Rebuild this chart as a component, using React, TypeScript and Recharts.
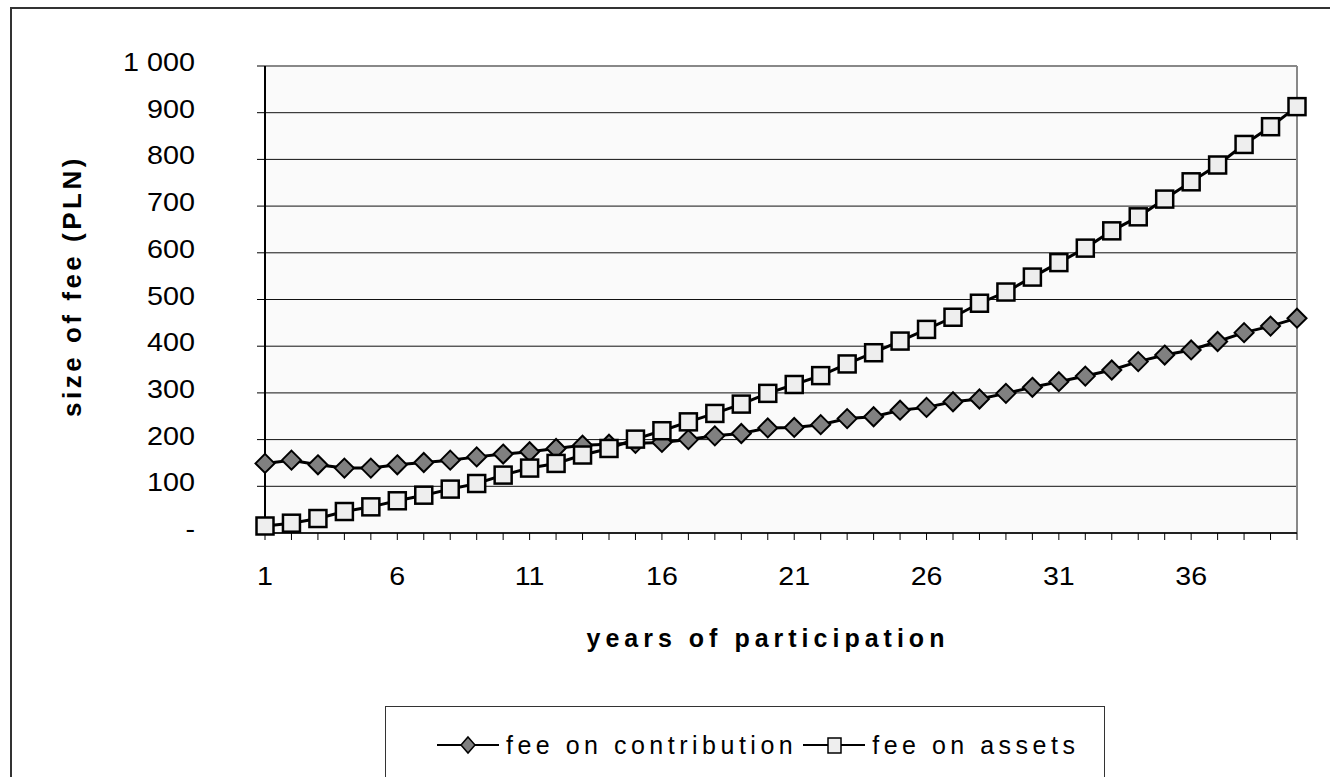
import {
  CartesianGrid,
  Legend,
  Line,
  LineChart,
  ReferenceLine,
  XAxis,
  YAxis,
} from "recharts";

const years = [
  1, 2, 3, 4, 5, 6, 7, 8, 9, 10, 11, 12, 13, 14, 15, 16, 17, 18, 19, 20, 21,
  22, 23, 24, 25, 26, 27, 28, 29, 30, 31, 32, 33, 34, 35, 36, 37, 38, 39, 40,
];

const feeOnContribution = [
  149, 156, 146, 139, 139, 146, 151, 156, 163, 169, 174, 181, 188, 190, 192,
  194, 200, 208, 213, 225, 226, 232, 245, 249, 263, 269, 281, 287, 299, 312,
  324, 336, 349, 367, 381, 392, 410, 429, 443, 460,
];

const feeOnAssets = [
  15, 21, 31, 46, 56, 69, 81, 94, 106, 124, 139, 149, 167, 181, 201, 219, 238,
  256, 276, 299, 318, 337, 362, 386, 411, 436, 462, 492, 516, 548, 579, 610,
  647, 677, 715, 752, 788, 832, 870, 913,
];

const xLabels = [1, 6, 11, 16, 21, 26, 31, 36];
const yTicks = [0, 100, 200, 300, 400, 500, 600, 700, 800, 900, 1000];

const data = years.map((year, i) => ({
  year,
  contribution: feeOnContribution[i],
  assets: feeOnAssets[i],
}));

const FONT = "'Liberation Sans', Arial, sans-serif";

// "-" for zero, space as thousands separator
const formatFee = (v: number) =>
  v === 0
    ? "-"
    : v >= 1000
      ? `${Math.floor(v / 1000)} ${String(v % 1000).padStart(3, "0")}`
      : String(v);

const YTick = (props: any) => {
  const { x, y, payload } = props;
  return (
    <text
      transform={`translate(${x},${y + 5}) scale(1.15,1)`}
      textAnchor="end"
      fontFamily={FONT}
      fontSize={25}
      fill="#000"
    >
      {formatFee(payload.value)}
    </text>
  );
};

const XTick = (props: any) => {
  const { x, y, payload } = props;
  if (!xLabels.includes(payload.value)) return <g />;
  return (
    <text
      transform={`translate(${x},${y + 19}) scale(1.1,1)`}
      textAnchor="middle"
      fontFamily={FONT}
      fontSize={26}
      fill="#000"
    >
      {payload.value}
    </text>
  );
};

const DiamondDot = (props: any) => {
  const { cx, cy, index } = props;
  const r = 9.5;
  return (
    <path
      key={`c-${index}`}
      d={`M${cx},${cy - r} L${cx + r},${cy} L${cx},${cy + r} L${cx - r},${cy} Z`}
      fill="#808080"
      stroke="#000"
      strokeWidth={2}
    />
  );
};

const SquareDot = (props: any) => {
  const { cx, cy, index } = props;
  return (
    <rect
      key={`a-${index}`}
      x={cx - 8.5}
      y={cy - 8.5}
      width={17}
      height={17}
      fill="#eeeeee"
      stroke="#000"
      strokeWidth={2.5}
    />
  );
};

const LegendBox = () => {
  const item = { display: "flex", alignItems: "center", height: 26 } as const;
  const text = {
    fontFamily: FONT,
    fontSize: 25,
    letterSpacing: 4.5,
    marginLeft: 7,
    whiteSpace: "nowrap",
  } as const;
  return (
    <div
      style={{
        boxSizing: "border-box",
        height: 100,
        border: "1px solid #333",
        borderBottom: "none",
        background: "#fff",
        display: "flex",
        alignItems: "flex-start",
        paddingTop: 25,
        paddingLeft: 51,
      }}
    >
      <div style={item}>
        <svg width={62} height={22}>
          <line x1={0} y1={11} x2={62} y2={11} stroke="#000" strokeWidth={2} />
          <path d="M31,3 L38,11 L31,19 L24,11 Z" fill="#808080" stroke="#000" strokeWidth={1.5} />
        </svg>
        <span style={text}>fee on contribution</span>
      </div>
      <div style={{ ...item, marginLeft: 6 }}>
        <svg width={62} height={22}>
          <line x1={0} y1={11} x2={62} y2={11} stroke="#000" strokeWidth={2} />
          <rect x={25} y={4} width={13} height={15} fill="#eeeeee" stroke="#000" strokeWidth={1.5} />
        </svg>
        <span style={text}>fee on assets</span>
      </div>
    </div>
  );
};

export default function App() {
  return (
    <div
      style={{
        position: "absolute",
        left: 0,
        top: 0,
        width: 1330,
        height: 777,
        overflow: "hidden",
        background: "#fff",
      }}
    >
      <div
        style={{
          position: "absolute",
          left: 10,
          top: 7,
          width: 1400,
          height: 900,
          borderLeft: "2px solid #333",
          borderTop: "2px solid #333",
        }}
      />
      <LineChart
        width={1330}
        height={777}
        data={data}
        margin={{ top: 66, right: 33, bottom: 184, left: 165 }}
      >
        <CartesianGrid
          horizontal
          vertical={false}
          fill="#fafafa"
          stroke="#111"
          strokeWidth={1}
        />
        <XAxis
          dataKey="year"
          type="number"
          domain={[1, 40]}
          ticks={years}
          interval={0}
          height={60}
          tickSize={7}
          tickMargin={26}
          tick={<XTick />}
          axisLine={{ stroke: "#222", strokeWidth: 2 }}
          tickLine={{ stroke: "#000" }}
          label={{
            content: () => (
              <text
                x={768}
                y={647}
                textAnchor="middle"
                fontFamily={FONT}
                fontSize={25}
                fontWeight="bold"
                letterSpacing={5}
                fill="#000"
              >
                years of participation
              </text>
            ),
          }}
        />
        <YAxis
          type="number"
          domain={[0, 1000]}
          ticks={yTicks}
          interval={0}
          width={100}
          tickSize={8}
          tickMargin={62}
          tick={<YTick />}
          axisLine={{ stroke: "#000", strokeWidth: 2 }}
          tickLine={{ stroke: "#000" }}
          label={{
            content: () => (
              <text
                transform="translate(81,286) rotate(-90)"
                textAnchor="middle"
                fontFamily={FONT}
                fontSize={26}
                fontWeight="bold"
                letterSpacing={3.5}
                fill="#000"
              >
                size of fee (PLN)
              </text>
            ),
          }}
        />
        <ReferenceLine y={1000} stroke="#888" strokeWidth={2} />
        <ReferenceLine x={40} stroke="#888" strokeWidth={2} />
        <Legend
          layout="horizontal"
          align="center"
          verticalAlign="middle"
          content={<LegendBox />}
          wrapperStyle={{ left: 385, top: 706, width: 720, height: 100 }}
        />
        <Line
          type="linear"
          dataKey="contribution"
          name="fee on contribution"
          stroke="#000"
          strokeWidth={3}
          dot={<DiamondDot />}
          activeDot={false}
          isAnimationActive={false}
        />
        <Line
          type="linear"
          dataKey="assets"
          name="fee on assets"
          stroke="#000"
          strokeWidth={3}
          dot={<SquareDot />}
          activeDot={false}
          isAnimationActive={false}
        />
      </LineChart>
    </div>
  );
}
